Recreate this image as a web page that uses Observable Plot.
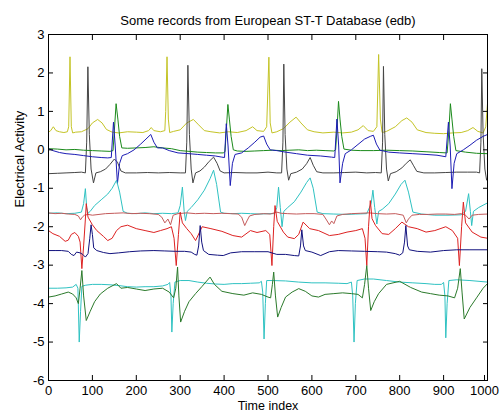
<!DOCTYPE html>
<html><head><meta charset="utf-8">
<script src="https://cdn.jsdelivr.net/npm/d3@7"></script>
<script src="https://cdn.jsdelivr.net/npm/@observablehq/plot@0.6"></script>
<style>html,body{margin:0;padding:0;background:#fff}svg{display:block}</style>
</head><body><div id="chart"></div>
<script>
const titleText = "Some records from European ST-T Database (edb)";
const xLabel = "Time index";
const yLabel = "Electrical Activity";
const xTicks = [0,100,200,300,400,500,600,700,800,900,1000];
const yTicks = [-6,-5,-4,-3,-2,-1,0,1,2,3];

const yellowTrace = [[0,0.46],[5,0.5],[11,0.6],[17,0.5],[25,0.47],[35,0.45],[43,0.47],[46,0.6],[49,2.42],[52,0.6],[55,0.44],[62,0.46],[75,0.47],[90,0.55],[100,0.7],[112,0.79],[122,0.7],[132,0.53],[145,0.46],[160,0.44],[180,0.47],[200,0.46],[215,0.45],[228,0.5],[234,0.58],[240,0.5],[255,0.47],[265,0.5],[267,1.0],[270,2.42],[273,0.8],[276,0.45],[285,0.48],[300,0.52],[315,0.7],[330,0.79],[342,0.65],[355,0.5],[370,0.47],[390,0.44],[410,0.47],[430,0.45],[450,0.5],[465,0.6],[475,0.5],[490,0.48],[497,0.6],[502,2.41],[505,0.7],[509,0.44],[520,0.47],[535,0.55],[550,0.72],[564,0.85],[575,0.7],[590,0.52],[605,0.47],[625,0.44],[650,0.46],[670,0.44],[690,0.46],[705,0.52],[717,0.63],[728,0.5],[740,0.48],[748,0.6],[752,2.48],[756,0.8],[760,0.45],[770,0.48],[790,0.6],[805,0.76],[816,0.83],[828,0.72],[840,0.52],[860,0.45],[880,0.43],[900,0.42],[920,0.44],[940,0.45],[955,0.5],[967,0.58],[978,0.48],[990,0.44],[996,0.6],[1000,1.2]];

const grayTrace = [[0,-0.62],[20,-0.61],[40,-0.6],[60,-0.59],[75,-0.58],[84,-0.6],[87,0.2],[89.7,2.16],[93,0.4],[97,-0.5],[102.5,-0.86],[108,-0.6],[118,-0.57],[130,-0.5],[140,-0.38],[150,-0.24],[157,-0.32],[165,-0.55],[175,-0.6],[200,-0.6],[225,-0.59],[250,-0.6],[275,-0.59],[300,-0.6],[312,-0.6],[315,0.2],[317.5,2.2],[321,0.4],[325,-0.5],[329,-0.86],[335,-0.6],[345,-0.55],[355,-0.45],[366,-0.3],[376,-0.19],[384,-0.35],[391,-0.55],[400,-0.6],[425,-0.59],[450,-0.6],[475,-0.6],[500,-0.58],[520,-0.6],[531,-0.6],[534,0.2],[536,2.23],[539,0.4],[543,-0.5],[547,-0.79],[552,-0.62],[565,-0.58],[578,-0.5],[588,-0.36],[596,-0.2],[603,-0.4],[611,-0.57],[625,-0.6],[650,-0.6],[675,-0.59],[700,-0.58],[725,-0.6],[745,-0.59],[758,-0.6],[761,0.2],[763,2.17],[766,0.4],[770,-0.5],[774,-0.81],[779,-0.62],[792,-0.57],[805,-0.47],[815,-0.35],[824,-0.26],[831,-0.4],[839,-0.56],[855,-0.6],[880,-0.6],[905,-0.59],[930,-0.58],[955,-0.58],[975,-0.58],[982,-0.6],[985,0.2],[987,2.11],[990,0.4],[994,-0.5],[998,-0.79],[1000,-0.72]];

const greenTopTrace = [[0,0.03],[20,0.02],[40,0.0],[60,0.01],[80,-0.01],[100,-0.02],[120,-0.03],[140,-0.04],[147,-0.02],[150,0.5],[154,1.2],[158,0.8],[162,0.35],[167,0.05],[180,0.04],[200,0.05],[220,0.06],[240,0.08],[260,0.05],[280,0.03],[300,-0.02],[320,-0.04],[340,-0.06],[360,-0.07],[380,-0.08],[398,-0.08],[402,-0.05],[405,0.5],[408.6,1.18],[412,0.8],[416,0.35],[421,0.0],[430,-0.03],[450,-0.04],[470,-0.03],[490,-0.02],[510,-0.01],[530,-0.02],[550,-0.01],[570,0.0],[590,-0.02],[610,-0.01],[630,-0.02],[650,-0.03],[654,0.0],[657,0.5],[660.6,1.26],[664,0.8],[668,0.35],[673,0.02],[690,-0.01],[710,-0.02],[740,-0.02],[770,-0.01],[800,-0.02],[830,-0.03],[860,-0.05],[890,-0.07],[908,-0.08],[912,0.5],[915.5,1.2],[919,0.8],[923,0.35],[928,-0.02],[950,-0.06],[975,-0.09],[1000,-0.1]];

const blueTopTrace = [[0,0.03],[10,-0.02],[25,-0.07],[40,-0.1],[60,-0.12],[80,-0.15],[100,-0.18],[120,-0.2],[135,-0.21],[143,-0.2],[148,0.72],[152,0.1],[157,-0.88],[162,-0.35],[168,-0.15],[180,-0.1],[195,0.0],[210,0.15],[222,0.28],[233,0.4],[240,0.2],[248,0.05],[260,0.05],[275,-0.02],[295,-0.08],[320,-0.1],[340,-0.12],[360,-0.14],[380,-0.16],[395,-0.19],[401,-0.2],[405,0.68],[409,0.1],[414,-0.93],[419,-0.35],[425,-0.12],[440,-0.08],[455,0.05],[470,0.2],[482,0.33],[490,0.36],[497,0.15],[505,0.0],[520,-0.02],[540,-0.06],[565,-0.1],[590,-0.14],[620,-0.16],[645,-0.19],[652,-0.2],[657,0.8],[661,0.1],[664,-0.86],[670,-0.35],[676,-0.1],[690,0.0],[705,0.14],[720,0.28],[733,0.35],[740,0.38],[747,0.15],[755,-0.01],[775,-0.06],[800,-0.08],[830,-0.1],[860,-0.12],[885,-0.14],[905,-0.18],[911,0.72],[915,0.1],[919,-1.01],[924,-0.35],[930,-0.1],[945,0.0],[960,0.12],[975,0.25],[990,0.35],[1000,0.4]];

const cyanTopTrace = [[0,-1.65],[20,-1.64],[40,-1.66],[60,-1.65],[75,-1.62],[80,-1.4],[84,-1.01],[87,-1.5],[90,-1.65],[95,-1.6],[105,-1.45],[120,-1.3],[135,-1.15],[145,-1.0],[155,-0.79],[162,-1.1],[170,-1.6],[180,-1.65],[200,-1.66],[220,-1.64],[240,-1.66],[260,-1.65],[280,-1.66],[295,-1.64],[300,-1.45],[305,-0.97],[309,-1.6],[312,-1.84],[316,-1.6],[325,-1.5],[340,-1.3],[355,-1.05],[368,-0.75],[376,-0.53],[383,-0.9],[392,-1.62],[400,-1.65],[420,-1.66],[440,-1.65],[460,-1.66],[480,-1.67],[500,-1.66],[515,-1.66],[520,-1.5],[524,-0.97],[528,-1.5],[532,-2.0],[536,-1.6],[545,-1.5],[560,-1.35],[575,-1.1],[588,-0.85],[596,-0.73],[603,-1.0],[612,-1.62],[625,-1.66],[650,-1.67],[680,-1.68],[700,-1.67],[725,-1.66],[735,-1.4],[739,-1.05],[743,-1.5],[748,-1.93],[752,-1.6],[760,-1.55],[775,-1.4],[790,-1.15],[803,-0.9],[812,-0.79],[820,-1.1],[830,-1.62],[850,-1.67],[880,-1.7],[910,-1.7],[940,-1.69],[950,-1.6],[957,-1.14],[961,-1.6],[964,-1.97],[968,-1.6],[980,-1.5],[1000,-1.38]];

const salmonTrace = [[0,-1.64],[15,-1.66],[30,-1.65],[45,-1.67],[60,-1.68],[68,-1.72],[73,-1.82],[77,-1.75],[82,-1.7],[90,-1.68],[100,-1.7],[115,-1.68],[130,-1.66],[150,-1.65],[170,-1.64],[190,-1.66],[210,-1.65],[230,-1.66],[250,-1.68],[258,-1.75],[265,-1.9],[272,-1.8],[278,-1.95],[284,-1.7],[295,-1.66],[315,-1.64],[335,-1.66],[355,-1.65],[375,-1.66],[395,-1.65],[415,-1.66],[432,-1.67],[440,-1.75],[447,-1.97],[452,-1.85],[458,-1.72],[470,-1.68],[490,-1.66],[505,-1.67],[520,-1.62],[530,-1.65],[545,-1.66],[565,-1.67],[585,-1.66],[605,-1.66],[625,-1.68],[632,-1.8],[640,-1.95],[645,-1.85],[650,-1.92],[657,-1.72],[670,-1.68],[690,-1.66],[710,-1.65],[730,-1.64],[750,-1.66],[770,-1.67],[790,-1.66],[808,-1.7],[815,-1.9],[820,-1.8],[828,-1.7],[845,-1.68],[865,-1.68],[885,-1.67],[905,-1.67],[925,-1.68],[940,-1.66],[950,-1.7],[958,-1.8],[965,-1.7],[980,-1.68],[1000,-1.67]];

const redTrace = [[0,-2.1],[10,-2.18],[25,-2.25],[38,-2.38],[45,-2.35],[52,-2.2],[60,-2.15],[68,-2.25],[72,-2.4],[76,-3.09],[80,-2.5],[84,-1.8],[86,-1.4],[90,-1.75],[100,-1.95],[110,-2.1],[125,-2.25],[135,-2.36],[145,-2.3],[155,-2.1],[165,-2.0],[180,-1.96],[200,-2.05],[220,-2.1],[240,-2.15],[255,-2.1],[270,-2.05],[280,-2.0],[286,-2.3],[291,-3.01],[296,-2.2],[300,-1.62],[305,-1.9],[315,-2.05],[325,-2.18],[335,-2.36],[350,-2.0],[370,-2.05],[395,-2.12],[420,-2.23],[440,-2.27],[460,-2.1],[475,-2.15],[495,-2.1],[504,-2.2],[509,-3.01],[513,-2.0],[516,-1.45],[521,-1.86],[535,-2.14],[545,-2.27],[560,-2.31],[570,-2.2],[580,-1.88],[595,-2.05],[615,-2.1],[640,-2.23],[660,-2.2],[680,-2.14],[700,-2.1],[715,-2.05],[721,-2.3],[725,-3.01],[729,-2.0],[733,-1.32],[737,-1.79],[745,-1.97],[760,-2.18],[775,-2.2],[790,-2.05],[805,-1.88],[820,-2.0],[840,-2.05],[860,-2.14],[880,-2.1],[905,-2.0],[920,-2.1],[932,-2.3],[936,-3.01],[941,-2.0],[945,-1.36],[950,-1.9],[965,-2.14],[985,-2.27],[1000,-2.3]];

const navyTrace = [[0,-2.62],[15,-2.62],[30,-2.62],[45,-2.64],[52,-2.72],[58,-2.75],[64,-2.66],[72,-2.68],[78,-2.72],[84,-2.79],[90,-2.7],[94,-2.3],[97,-1.95],[100,-2.2],[103,-2.55],[110,-2.62],[125,-2.67],[140,-2.7],[160,-2.68],[185,-2.65],[210,-2.63],[240,-2.62],[265,-2.63],[290,-2.64],[310,-2.64],[325,-2.66],[333,-2.72],[338,-2.74],[342,-2.5],[345.5,-1.97],[349,-2.4],[353,-2.62],[365,-2.72],[385,-2.74],[398,-2.75],[415,-2.68],[440,-2.65],[470,-2.65],[500,-2.65],[520,-2.72],[540,-2.72],[560,-2.75],[570,-2.76],[574,-2.5],[577,-2.08],[581,-2.5],[585,-2.62],[600,-2.66],[620,-2.75],[640,-2.65],[660,-2.62],[690,-2.63],[720,-2.64],[750,-2.65],[770,-2.66],[790,-2.7],[800,-2.74],[807,-2.68],[811,-2.4],[814,-1.97],[818,-2.5],[822,-2.6],[840,-2.64],[870,-2.66],[900,-2.62],[930,-2.6],[960,-2.6],[1000,-2.6]];

const cyanBottomTrace = [[0,-3.6],[20,-3.6],[40,-3.59],[55,-3.57],[63,-3.5],[67,-3.6],[70,-5.0],[73,-4.2],[76,-3.55],[85,-3.52],[100,-3.5],[120,-3.5],[140,-3.51],[160,-3.53],[180,-3.56],[200,-3.57],[220,-3.56],[240,-3.56],[260,-3.54],[272,-3.5],[276,-3.45],[279,-3.8],[281,-4.74],[284,-4.0],[288,-3.44],[300,-3.4],[320,-3.4],[340,-3.44],[360,-3.47],[380,-3.49],[400,-3.5],[420,-3.48],[440,-3.48],[460,-3.47],[480,-3.46],[485,-3.42],[488,-3.7],[491,-4.92],[494,-4.0],[497,-3.4],[510,-3.4],[540,-3.41],[570,-3.44],[600,-3.46],[630,-3.46],[660,-3.47],[680,-3.48],[690,-3.44],[693,-3.8],[696,-5.0],[699,-4.0],[703,-3.4],[720,-3.36],[740,-3.36],[770,-3.4],[800,-3.44],[830,-3.46],[860,-3.48],[880,-3.5],[895,-3.5],[900,-3.45],[903,-3.8],[905,-4.89],[908,-4.0],[912,-3.4],[930,-3.38],[960,-3.4],[1000,-3.44]];

const greenBottomTrace = [[0,-3.83],[15,-3.8],[30,-3.75],[45,-3.7],[55,-3.75],[63,-3.85],[68,-4.0],[72,-3.6],[76,-3.14],[80,-3.8],[86,-4.44],[95,-4.2],[105,-3.95],[118,-3.75],[135,-3.6],[155,-3.48],[165,-3.6],[180,-3.58],[200,-3.62],[220,-3.66],[240,-3.62],[260,-3.6],[275,-3.7],[285,-3.85],[290,-3.6],[294,-3.05],[297,-3.8],[301,-4.48],[310,-4.2],[320,-3.95],[335,-3.74],[350,-3.55],[368,-3.31],[378,-3.5],[395,-3.68],[420,-3.74],[445,-3.78],[465,-3.72],[485,-3.76],[500,-3.83],[506,-3.85],[510,-3.5],[513,-3.18],[517,-3.8],[522,-4.35],[530,-4.1],[540,-3.83],[555,-3.7],[570,-3.61],[585,-3.68],[600,-3.8],[615,-3.83],[630,-3.76],[650,-3.74],[670,-3.72],[690,-3.74],[705,-3.76],[715,-3.85],[720,-3.5],[725,-3.01],[729,-3.6],[734,-4.18],[742,-3.95],[752,-3.74],[770,-3.5],[800,-3.42],[825,-3.58],[850,-3.7],[870,-3.74],[890,-3.78],[910,-3.8],[925,-3.85],[932,-3.6],[938,-3.09],[942,-3.7],[947,-4.4],[960,-4.1],[975,-3.85],[990,-3.6],[1000,-3.48]];

const traces = [yellowTrace, grayTrace, greenTopTrace, blueTopTrace, cyanTopTrace, salmonTrace, redTrace, navyTrace, cyanBottomTrace, greenBottomTrace];
const traceColors = ["#c4c426", "#454545", "#1b8a1b", "#1c1cb4", "#2fc2c2", "#c45a5a", "#dd2222", "#12127e", "#2fc2c2", "#2b7a2b"];

const xTicksInner = xTicks.slice(0, -1);
const xTicksLast = xTicks.slice(-1);

const chart = Plot.plot({
  width: 500,
  height: 412,
  marginLeft: 48,
  marginRight: 13,
  marginTop: 34,
  marginBottom: 32,
  style: {fontFamily: "'Liberation Sans', Arial, sans-serif", fontSize: "13px", background: "#fff", color: "#000"},
  x: {domain: [0, 1000], label: null},
  y: {domain: [-6, 3], label: null},
  marks: [
    ...traces.map((t, i) => Plot.line(t, {x: d => d[0], y: d => d[1], stroke: traceColors[i], strokeWidth: 1})),
    Plot.frame({stroke: "#000"}),
    Plot.axisX(xTicksInner, {anchor: "bottom", tickSize: -5, tickPadding: 10, tickFormat: d => String(d), label: null, fontSize: 13}),
    Plot.axisX(xTicksLast, {anchor: "bottom", tickSize: -5, tickPadding: 10, tickFormat: d => String(d), label: null, fontSize: 13, dx: -3}),
    Plot.axisX(xTicks, {anchor: "top", tickSize: -5, fill: "none", label: null}),
    Plot.axisY(yTicks, {anchor: "left", tickSize: -5, tickPadding: 9, tickFormat: d => String(d), label: null, fontSize: 13}),
    Plot.axisY(yTicks, {anchor: "right", tickSize: -5, fill: "none", label: null}),
    Plot.text([titleText], {frameAnchor: "top", dy: -14, lineAnchor: "middle", fontSize: 13, text: d => d}),
    Plot.text([xLabel], {frameAnchor: "bottom", dy: 29, lineAnchor: "bottom", fontSize: 12.5, text: d => d}),
    Plot.text([yLabel], {frameAnchor: "left", dx: -29, rotate: -90, lineAnchor: "middle", fontSize: 13, text: d => d})
  ]
});
document.getElementById("chart").appendChild(chart);
</script>
</body></html>
